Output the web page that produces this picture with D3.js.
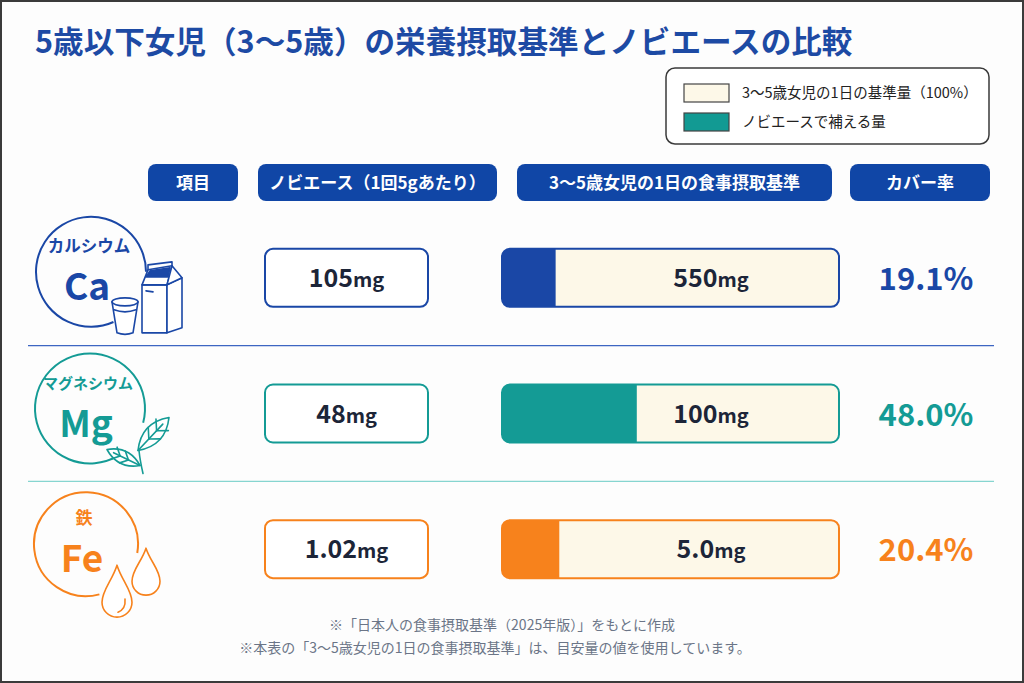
<!DOCTYPE html>
<html>
<head>
<meta charset="utf-8">
<script src="https://cdn.jsdelivr.net/npm/d3@7"></script>
<style>
  html, body { margin: 0; padding: 0; background: #fff; }
  svg { display: block; font-family: "Noto Sans CJK JP", "Noto Sans", sans-serif; }
</style>
</head>
<body>
<div id="chart"></div>
<script>
// ---- データ ----
const titleText = "5歳以下女児（3〜5歳）の栄養摂取基準とノビエースの比較";
const headers = ["項目", "ノビエース（1回5gあたり）", "3〜5歳女児の1日の食事摂取基準", "カバー率"];
const legendLabels = ["3〜5歳女児の1日の基準量（100%）", "ノビエースで補える量"];
const nutrients = ["カルシウム", "マグネシウム", "鉄"];
const symbols = ["Ca", "Mg", "Fe"];
const nobiValues = ["105", "48", "1.02"];      // ノビエース 1回5g (mg)
const standardValues = ["550", "100", "5.0"];  // 3〜5歳女児 1日 (mg)
const coverage = [19.1, 48.0, 20.4];           // カバー率 (%)
const notes = [
  "※「日本人の食事摂取基準（2025年版）」をもとに作成",
  "※本表の「3〜5歳女児の1日の食事摂取基準」は、目安量の値を使用しています。"
];

// 見た目
const W = 1024, H = 683;
const colors = ["#1a47a6", "#149b95", "#f7821c"];
const lineColors = ["#3d66c2", "#86d5d0"];
const cream = "#fdf8e8", ink = "#1c2538";

const svg = d3.select("#chart").append("svg").attr("width", W).attr("height", H);
svg.append("rect").attr("x", 1).attr("y", 1).attr("width", W - 2).attr("height", H - 2)
  .attr("fill", "#fdfdfd").attr("stroke", "#3b3b3b").attr("stroke-width", 2);

// タイトル
svg.append("text").attr("x", 35).attr("y", 53).attr("fill", "#1d4aa4")
  .style("font-size", "30.6px").style("font-weight", 700).text(titleText);

// 凡例
const lg = svg.append("g").attr("transform", "translate(666,68)");
lg.append("rect").attr("width", 323).attr("height", 76).attr("rx", 9)
  .attr("fill", "#fff").attr("stroke", "#3a3a3a").attr("stroke-width", 1.5);
legendLabels.forEach((t, i) => {
  const gg = lg.append("g").attr("transform", `translate(18,${16 + i * 29})`);
  gg.append("rect").attr("width", 45).attr("height", 18)
    .attr("fill", i === 0 ? cream : "#129a93").attr("stroke", "#444").attr("stroke-width", 1.2);
  gg.append("text").attr("x", 58).attr("y", 14).attr("fill", "#222")
    .style("font-size", "14.5px").text(t);
});

// ヘッダー（ピル）
const colX = [148, 258, 517, 850], colW = [90, 239, 315, 140];
const hd = svg.append("g").selectAll("g").data(headers).join("g")
  .attr("transform", (d, i) => `translate(${colX[i]},164)`);
hd.append("rect").attr("width", (d, i) => colW[i]).attr("height", 37).attr("rx", 8).attr("fill", "#1046a6");
hd.append("text").attr("x", (d, i) => colW[i] / 2).attr("y", 25).attr("text-anchor", "middle")
  .attr("fill", "#fff").style("font-size", "17px").style("font-weight", 700).text((d) => d);

// 行スケール
const y = d3.scaleBand().domain(nutrients).range([210, 617]);
const cy = (d) => y(d) + y.bandwidth() / 2;
const barX = 502, barW = 337, boxH = 58, rx = 8;
const fx = d3.scaleLinear().domain([0, 120]).range([0, barW]);

// 区切り線
svg.selectAll("line.sep").data(nutrients.slice(1)).join("line").attr("class", "sep")
  .attr("x1", 28).attr("x2", 994).attr("y1", (d) => y(d)).attr("y2", (d) => y(d))
  .attr("stroke", (d, i) => lineColors[i]).attr("stroke-width", 1.4);

const rows = svg.selectAll("g.row").data(nutrients).join("g").attr("class", "row")
  .attr("transform", (d) => `translate(0,${cy(d)})`);

// ノビエース値ボックス
rows.append("rect").attr("x", 265).attr("y", -boxH / 2).attr("width", 163).attr("height", boxH)
  .attr("rx", rx).attr("fill", "#fff").attr("stroke", (d, i) => colors[i]).attr("stroke-width", 2);
function valueText(sel, xc, vals) {
  const t = sel.append("text").attr("x", xc).attr("y", 9).attr("text-anchor", "middle")
    .attr("fill", ink).style("font-weight", 700);
  t.append("tspan").style("font-size", "25px").text((d, i) => vals[i]);
  t.append("tspan").style("font-size", "20px").text("mg");
}
valueText(rows, 346.5, nobiValues);

// 基準量バー
rows.append("rect").attr("x", barX).attr("y", -boxH / 2).attr("width", barW).attr("height", boxH)
  .attr("rx", rx).attr("fill", cream);
rows.append("path").attr("fill", (d, i) => colors[i]).attr("d", (d, i) => {
  const w = fx(coverage[i]), x0 = barX, y0 = -boxH / 2, h = boxH;
  return `M${x0 + rx},${y0}H${x0 + w}V${y0 + h}H${x0 + rx}` +
    `A${rx},${rx} 0 0 1 ${x0},${y0 + h - rx}V${y0 + rx}A${rx},${rx} 0 0 1 ${x0 + rx},${y0}Z`;
});
rows.append("rect").attr("x", barX).attr("y", -boxH / 2).attr("width", barW).attr("height", boxH)
  .attr("rx", rx).attr("fill", "none").attr("stroke", (d, i) => colors[i]).attr("stroke-width", 2);
valueText(rows, barX + barW * 0.62, standardValues);

// カバー率
rows.append("text").attr("x", 926).attr("y", 12).attr("text-anchor", "middle")
  .attr("fill", (d, i) => colors[i]).style("font-size", "31px").style("font-weight", 700)
  .text((d, i) => coverage[i].toFixed(1) + "%");

// アイコン（円＋元素記号）
const iconCx = [91, 90, 86], iconDy = [-6, -5, -5], iconR = [55, 55, 52];
const gaps = [[0, 1.15], [0.26, 1.05], [0.17, 1.31]];
const nameSize = [16.5, 15, 17];
rows.each(function (d, i) {
  const g = d3.select(this).append("g").attr("transform", `translate(${iconCx[i]},${iconDy[i]})`);
  const p = d3.path();
  p.arc(0, 0, iconR[i], gaps[i][1], Math.PI * 2 + gaps[i][0]);
  g.append("path").attr("d", p.toString()).attr("fill", "none").attr("stroke", colors[i]).attr("stroke-width", 2);
  g.append("text").attr("x", -2).attr("y", -20).attr("text-anchor", "middle").attr("fill", colors[i])
    .style("font-size", nameSize[i] + "px").style("font-weight", 700).text(d);
  g.append("text").attr("x", -4).attr("y", 28).attr("text-anchor", "middle").attr("fill", colors[i])
    .style("font-size", "37px").style("font-weight", 700)
    .text(symbols[i]);

  const s = { fill: "none", stroke: colors[i], "stroke-width": 1.6, "stroke-linejoin": "round", "stroke-linecap": "round" };
  const draw = (dd, fill) => { const e = g.append("path").attr("d", dd); Object.entries(s).forEach(([k, v]) => e.attr(k, v)); if (fill) e.attr("fill", fill); return e; };
  if (i === 0) {
    // 牛乳パック
    draw("M51,13H76V61H51Z", "#fff");
    draw("M76,13L91,6V56L76,61Z", "#fff");
    draw("M51,13L57,-2L81,-6L76,13Z", "#fff");
    draw("M76,13L81,-6L91,6Z", "#fff");
    draw("M57,-2L57,-7L81,-10L81,-6");
    draw("M55,5L59,-1L79,-4L77,5Z", colors[i]);
    draw("M55,19L62,20");
    // コップ
    draw("M21,30L26,61Q34,64 42,61L47,30", "#fff");
    g.append("ellipse").attr("cx", 34).attr("cy", 30).attr("rx", 13).attr("ry", 4)
      .attr("fill", "#fff").attr("stroke", colors[i]).attr("stroke-width", 1.6);
    draw("M23,38Q34,42 45,38");
  } else if (i === 1) {
    // 葉
    const leaf = (bx, by, tx, ty, w) => {
      const mx = (bx + tx) / 2, my = (by + ty) / 2, dx = tx - bx, dy = ty - by;
      const L = Math.hypot(dx, dy), nx = -dy / L * w, ny = dx / L * w;
      draw(`M${bx},${by}Q${mx + nx},${my + ny} ${tx},${ty}Q${mx - nx},${my - ny} ${bx},${by}Z`, "#fff");
      draw(`M${bx},${by}L${bx + dx * 0.8},${by + dy * 0.8}`);
      for (let k = 1; k <= 2; k++) {
        const f = 0.25 * k + 0.1, px = bx + dx * f, py = by + dy * f;
        draw(`M${px},${py}L${px + dx * 0.18 + nx * 0.5},${py + dy * 0.18 + ny * 0.5}`);
        draw(`M${px},${py}L${px + dx * 0.18 - nx * 0.5},${py + dy * 0.18 - ny * 0.5}`);
      }
    };
    draw("M53,65Q50,52 49,42");
    leaf(48, 42, 79, 9, 17);
    leaf(50, 57, 17, 41, 13);
  } else {
    // しずく
    const drop = (x0, y0, r, h) => {
      draw(`M${x0},${y0 - h}C${x0 + r * 0.3},${y0 - h * 0.6} ${x0 + r},${y0 - r * 0.8} ${x0 + r},${y0}` +
        `A${r},${r} 0 0 1 ${x0 - r},${y0}C${x0 - r},${y0 - r * 0.8} ${x0 - r * 0.3},${y0 - h * 0.6} ${x0},${y0 - h}Z`, "#fff");
    };
    drop(60, 37, 14, 33);
    drop(31, 58, 15, 37);
    draw("M39,55Q40,65 32,68");
  }
});

// 注記
svg.selectAll("text.note").data(notes).join("text").attr("class", "note")
  .attr("x", (d, i) => i === 0 ? 502 : 495).attr("y", (d, i) => 630 + i * 23).attr("text-anchor", "middle")
  .attr("fill", "#6b7587").style("font-size", "14px").text((d) => d);
</script>
</body>
</html>
